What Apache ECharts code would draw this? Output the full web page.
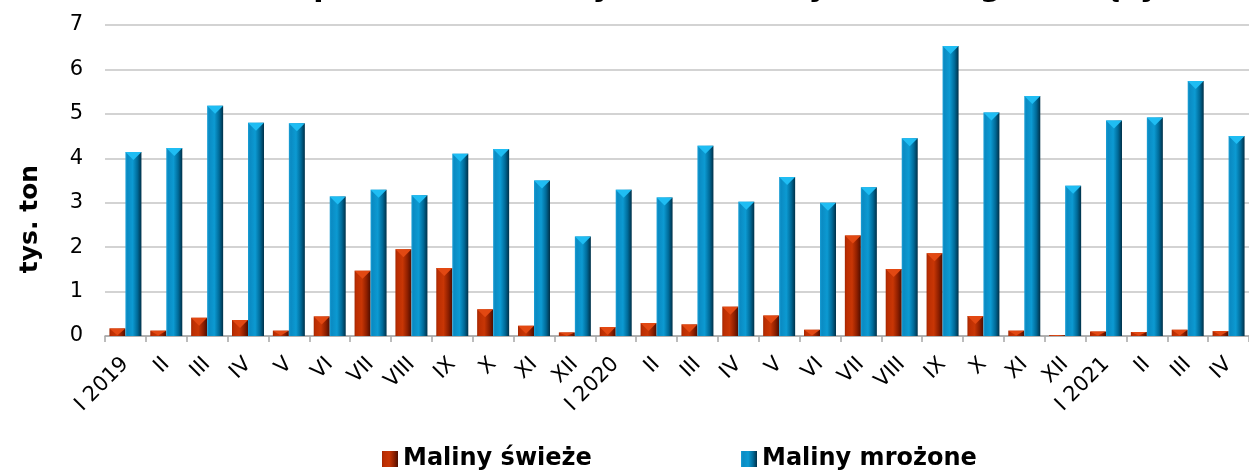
<!DOCTYPE html>
<html>
<head>
<meta charset="utf-8">
<script src="https://cdn.jsdelivr.net/npm/echarts@6/dist/echarts.min.js"></script>
<style>
html,body{margin:0;padding:0;background:#fff;}
#chart{width:1249px;height:470px;}
</style>
</head>
<body>
<div id="chart"></div>
<script>
var titleText = 'Eksport malin świeżych i mrożonych według miesięcy';
var yAxisName = 'tys. ton';
var categories = ['I 2019','II','III','IV','V','VI','VII','VIII','IX','X','XI','XII',
                  'I 2020','II','III','IV','V','VI','VII','VIII','IX','X','XI','XII',
                  'I 2021','II','III','IV'];
var seriesNames = ['Maliny świeże', 'Maliny mrożone'];
var fresh  = [0.17,0.12,0.41,0.36,0.12,0.44,1.47,1.95,1.53,0.60,0.23,0.08,
              0.20,0.29,0.26,0.66,0.46,0.14,2.26,1.51,1.86,0.45,0.12,0.02,
              0.10,0.09,0.14,0.11];
var frozen = [4.14,4.23,5.18,4.80,4.79,3.14,3.29,3.17,4.10,4.21,3.50,2.24,
              3.29,3.12,4.28,3.02,3.58,3.00,3.35,4.45,6.53,5.03,5.40,3.38,
              4.85,4.92,5.74,4.50];

var FONT = 'DejaVu Sans';
var BW = 16;

function grad(stops){
  return new echarts.graphic.LinearGradient(0,0,1,0, stops.map(function(s){return {offset:s[0], color:s[1]};}));
}
var redGrad = grad([[0,'#a22600'],[0.12,'#bc2e02'],[0.45,'#c83605'],[0.75,'#8e1f00'],[1,'#4c0d00']]);
var blueGrad = grad([[0,'#1b9fd6'],[0.12,'#0a8bc3'],[0.45,'#0c9ad2'],[0.75,'#006a98'],[1,'#003048']]);

function caps(arr){
  return arr.map(function(v){ return {value:v, symbolSize:[BW, Math.min(8, v*40)]}; });
}

var chart = echarts.init(document.getElementById('chart'));
chart.setOption({
  animation:false,
  title:{
    text:titleText, left:255, top:-27, padding:0,
    textStyle:{fontFamily:FONT, fontSize:30, fontWeight:'bold', color:'#000'}
  },
  legend:[
    {data:[seriesNames[0]], left:377, top:442, icon:'rect', itemWidth:16, itemHeight:16,
     textStyle:{fontFamily:FONT, fontSize:24, fontWeight:'bold', color:'#000'}},
    {data:[seriesNames[1]], left:736, top:442, icon:'rect', itemWidth:16, itemHeight:16,
     textStyle:{fontFamily:FONT, fontSize:24, fontWeight:'bold', color:'#000'}}
  ],
  grid:{left:105, right:-9, top:25, bottom:134, containLabel:false},
  graphic:[{
    type:'text', x:30, y:219, rotation:Math.PI/2,
    style:{text:yAxisName, fontFamily:FONT, fontSize:25, fontWeight:'bold', fill:'#000',
           textAlign:'center', textVerticalAlign:'middle'}
  }],
  xAxis:{
    type:'category', data:categories, boundaryGap:true,
    axisLine:{lineStyle:{color:'#a6a6a6', width:1.5}},
    axisTick:{show:true, length:6, lineStyle:{color:'#a6a6a6', width:1.5}},
    axisLabel:{interval:0, rotate:45, margin:25, fontFamily:FONT, fontSize:21, color:'#000'}
  },
  yAxis:{
    type:'value', min:0, max:7, interval:1,
    axisLine:{show:false}, axisTick:{show:false},
    axisLabel:{margin:22, fontFamily:FONT, fontSize:21, color:'#000'},
    splitLine:{lineStyle:{color:'#c4c4c4', width:1.5}}
  },
  series:[
    {name:seriesNames[0], type:'bar', data:fresh, barWidth:BW, barGap:'0%',
     itemStyle:{color:redGrad}},
    {name:seriesNames[1], type:'bar', data:frozen, barWidth:BW, barGap:'0%',
     itemStyle:{color:blueGrad}},
    {name:'capR', type:'pictorialBar', data:caps(fresh), symbol:'path://M0,0 L10,0 L5,5 Z',
     symbolPosition:'end', symbolOffset:[-BW/2, 0], z:5, itemStyle:{color:'#e24812'}, silent:true},
    {name:'capB', type:'pictorialBar', data:caps(frozen), symbol:'path://M0,0 L10,0 L5,5 Z',
     symbolPosition:'end', symbolOffset:[BW/2, 0], z:5, itemStyle:{color:'#1fbdf3'}, silent:true}
  ]
});
</script>
</body>
</html>
